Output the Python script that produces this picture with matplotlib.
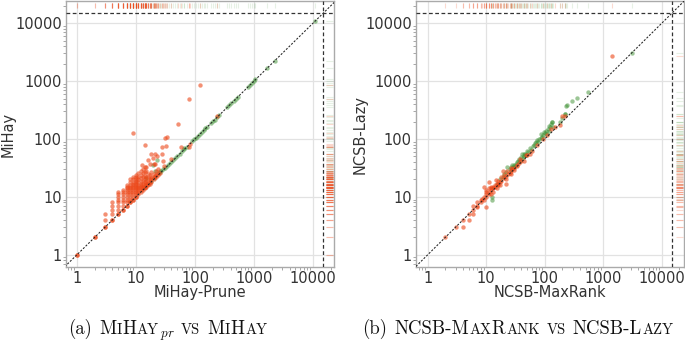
import matplotlib
matplotlib.use("Agg")
import matplotlib.pyplot as plt
import matplotlib.ticker as mt
import matplotlib.transforms as mtrans

plt.rcParams['mathtext.fontset'] = 'cm'
plt.rcParams['font.family'] = ['DejaVu Sans']

# ---------------- data ----------------
TICKS = [1, 10, 100, 1000, 10000]
TICK_LABELS = ["1", "10", "100", "1000", "10000"]
TIMEOUT = 14800

LEFT_ORANGE_X = [
    1, 1, 2, 2, 3, 3, 4, 4, 5, 5, 6, 6, 7, 7, 8, 8, 9, 9, 10, 10, 11, 12, 13, 14, 15, 16, 17, 18, 20, 22, 24, 26,
    3, 3,
    4, 4, 4, 4,
    5, 5, 5, 5, 5, 5, 5,
    6, 6, 6, 6, 6, 6, 6,
    7, 7, 7, 7, 7, 7, 7, 7, 7,
    8, 8, 8, 8, 8, 8, 8, 8, 8, 8,
    9, 9, 9, 9, 9, 9, 9, 9, 9, 9, 9,
    10, 10, 10, 10, 10, 10, 10, 10, 10, 10, 10, 10,
    11, 11, 11, 11, 11, 11, 11, 11, 11,
    12, 12, 12, 12, 12, 12, 12, 12, 12,
    13, 13, 13, 13, 13, 13, 13,
    14, 14, 14, 14, 14, 14, 14,
    15, 15, 15, 15, 15,
    16, 16, 16, 16, 16,
    17, 17, 17,
    18, 18, 18, 18,
    20, 20, 20,
    21, 21,
    22, 22,
    24, 24,
    9, 14, 12.5, 14.6, 17.5, 19.5, 20.8, 23, 28, 28.5, 28, 31, 34, 32, 52, 80, 122, 59, 80, 30, 40, 82, 233]
LEFT_ORANGE_Y = [
    1, 1, 2, 2, 3, 3, 4, 4, 5, 5, 6, 6, 7, 7, 8, 8, 9, 9, 10, 10, 11, 12, 13, 14, 15, 16, 17, 18, 20, 22, 24, 26,
    4, 5,
    5, 6, 7, 8,
    6, 7, 8, 9, 10, 11, 12,
    7, 8, 9, 10, 11, 12, 13,
    8, 9, 10, 11, 12, 13, 14, 15, 16,
    9, 10, 11, 12, 13, 14, 15, 16, 18, 20,
    10, 11, 12, 13, 14, 15, 16, 17, 18, 20, 22,
    11, 12, 13, 14, 15, 16, 17, 18, 19, 20, 22, 24,
    12, 13, 14, 15, 16, 18, 20, 22, 26,
    13, 14, 15, 16, 17, 19, 21, 24, 28,
    14, 15, 17, 19, 22, 26, 30,
    15, 16, 18, 20, 23, 27, 33,
    16, 17, 19, 22, 28,
    17, 18, 21, 25, 43,
    18, 20, 24,
    20, 22, 27, 54,
    22, 25, 37,
    23, 55,
    24, 28,
    26, 30,
    128, 80, 36, 32.6, 37, 47, 37.6, 50, 56, 42, 72, 103, 107, 76, 183, 490, 867, 72, 74, 34, 45, 83, 247]

LEFT_GREEN_X = [15, 18, 19.5, 20, 21, 23, 25.7, 65,
    25, 27, 29, 31, 33, 36, 39, 42, 46, 50, 55, 60, 66, 73, 90, 97, 104, 112, 120, 130,
    140, 150, 160, 185, 200, 215, 235, 255, 350, 380, 410, 450, 490, 530, 800, 860, 920,
    990, 1060, 1650, 2250, 10900]
LEFT_GREEN_Y = [21, 19, 36, 21, 28, 44, 27.9, 69,
    26, 28, 30, 32, 34, 37, 40, 43, 47, 51, 56, 61, 67, 74, 91, 98, 105, 113, 121, 131,
    141, 152, 162, 187, 202, 217, 237, 257, 353, 383, 413, 454, 494, 534, 806, 866, 926,
    997, 1067, 1660, 2265, 11000]

RIGHT_ORANGE_X = [2, 3, 4, 4, 5, 5, 6, 6, 6, 7, 7, 7, 8, 8, 8.6, 9, 9, 10, 10, 10,
    11, 11, 9.2, 9.9, 11, 12, 12, 13, 13, 14, 14.6, 15.6, 15, 16, 17, 18, 19.5, 21.6, 20, 22,
    24, 25, 26, 28, 30, 33, 36, 40, 47, 50, 60, 75, 95, 110, 130, 150, 182, 200, 220, 1397,
    10, 11, 12, 12, 13, 14, 15, 16, 17, 18, 20, 22, 23, 26, 27, 30, 34, 38, 44, 55]
RIGHT_ORANGE_Y = [2, 3, 3, 4, 4, 5, 5, 6, 7, 6.7, 7, 8, 8, 9, 9.2, 9, 10, 6.7, 10, 11,
    11, 12, 14.8, 13.4, 18, 13, 14, 14, 15, 15, 19.3, 15.8, 17, 17, 18, 19, 27.5, 16.5, 21, 23,
    25, 26, 28, 30, 31, 34, 38, 41, 52, 52, 62, 78, 100, 115, 150, 160, 171, 251, 250, 2735,
    12, 14, 15, 11, 12, 16, 14, 19, 16, 22, 24, 20, 28, 25, 32, 29, 36, 45, 42, 55]

RIGHT_GREEN_X = [12.5, 12.5, 15, 17, 19.5, 20, 22, 23, 25, 26, 27, 28, 29, 30, 31, 32, 34, 35, 36.5, 38,
    40, 41.5, 42, 44, 45, 46, 48, 50, 52, 55, 58, 62, 66, 68, 70, 75, 78, 80, 85, 88,
    90, 92, 97, 100, 105, 110, 114, 118, 120, 122, 126, 132, 135, 140, 180, 200, 219, 222, 228, 238,
    290, 352, 556, 3069]
RIGHT_GREEN_Y = [9, 10, 17, 20, 22, 25, 27, 32.7, 30, 29, 33, 35, 33, 36, 34, 37, 40, 41, 45, 42,
    48, 55, 46, 50, 54, 56, 52, 62, 60, 70, 65, 75, 80, 85, 88, 95, 90, 100, 122, 105,
    110, 118, 130, 125, 140, 120, 148, 170, 140, 163, 181, 195, 200, 160, 200, 230, 269, 272, 372, 382,
    447, 512, 657, 2999]

ORANGE = '#ec4718'
GREEN = '#3a8f2f'

# ---------------- figure ----------------
fig = plt.figure(figsize=(6.85, 3.4), dpi=100)
ax1 = fig.add_axes([66 / 685, 73 / 340, 268 / 685, 266 / 340])
ax2 = fig.add_axes([416 / 685, 73 / 340, 268 / 685, 266 / 340])


def draw(ax, ox, oy, gx, gy, xlim, ylim, xlabel, ylabel, ylab_x):
    ax.set_xscale('log')
    ax.set_yscale('log')
    ax.set_xlim(xlim)
    ax.set_ylim(ylim)
    ax.set_axisbelow(True)
    ax.grid(True, which='major', color='#e2e2e2', lw=0.9)
    ax.set_xticks(TICKS)
    ax.set_xticklabels(TICK_LABELS)
    ax.set_yticks(TICKS)
    ax.set_yticklabels(TICK_LABELS)
    ax.xaxis.set_minor_locator(mt.LogLocator(base=10, subs=range(2, 10), numticks=20))
    ax.yaxis.set_minor_locator(mt.LogLocator(base=10, subs=range(2, 10), numticks=20))
    ax.xaxis.set_minor_formatter(mt.NullFormatter())
    ax.yaxis.set_minor_formatter(mt.NullFormatter())
    ax.tick_params(which='major', length=0, labelsize=10.5, labelcolor='#333333', pad=3)
    ax.tick_params(which='minor', length=2, width=0.6, color='#999999')
    for sp in ax.spines.values():
        sp.set_color('#aaaaaa')
        sp.set_linewidth(1.0)
    ax.set_xlabel(xlabel, fontsize=10.5, color='#333333', va='center')
    ax.set_ylabel(ylabel, fontsize=10.5, color='#333333', va='center')
    ax.xaxis.set_label_coords(0.5, -0.097)
    ax.yaxis.set_label_coords(ylab_x, 0.5)

    ax.scatter(gx, gy, s=10, c=GREEN, alpha=0.5, lw=0, zorder=3)
    ax.scatter(ox, oy, s=10, c=ORANGE, alpha=0.6, lw=0, zorder=4)
    ax.plot([0.1, 1e5], [0.1, 1e5], ls=(0, (2, 1.5)), color='#222222', lw=0.75, zorder=5)
    ax.axvline(TIMEOUT, ls=(0, (3, 2)), color='#333333', lw=0.9, zorder=5)
    ax.axhline(TIMEOUT, ls=(0, (3, 2)), color='#333333', lw=0.9, zorder=5)

    xt = ax.get_xaxis_transform()
    yt = ax.get_yaxis_transform()
    ax.vlines(gx, 0.973, 0.994, transform=xt, colors=GREEN, alpha=0.12, lw=0.8)
    ax.vlines(ox, 0.973, 0.994, transform=xt, colors=ORANGE, alpha=0.2, lw=0.8)
    ax.hlines(gy, 0.970, 0.997, transform=yt, colors=GREEN, alpha=0.12, lw=0.8)
    ax.hlines(oy, 0.970, 0.997, transform=yt, colors=ORANGE, alpha=0.2, lw=0.8)


draw(ax1, LEFT_ORANGE_X, LEFT_ORANGE_Y, LEFT_GREEN_X, LEFT_GREEN_Y,
     (0.652, 22700), (0.614, 24200), "MiHay-Prune", "MiHay", -0.215)
draw(ax2, RIGHT_ORANGE_X, RIGHT_ORANGE_Y, RIGHT_GREEN_X, RIGHT_GREEN_Y,
     (0.63, 24000), (0.614, 24200), "NCSB-MaxRank", "NCSB-Lazy", -0.21)

# ---------------- captions (small caps emulated) ----------------
BIG = 13.5
SMALL = 10.6
SUB = 9.5
CAP_A = [("(a)", BIG, 0), (" ", BIG, 0), ("M", BIG, 0), ("I", SMALL, 0), ("H", BIG, 0),
         ("AY", SMALL, 0), ("$pr$", SUB, -3), (" ", BIG, 0), ("VS", SMALL, 0), (" ", BIG, 0),
         ("M", BIG, 0), ("I", SMALL, 0), ("H", BIG, 0), ("AY", SMALL, 0)]
CAP_B = [("(b)", BIG, 0), (" ", BIG, 0), ("NCSB-M", BIG, 0), ("AX", SMALL, 0), ("R", BIG, 0),
         ("ANK", SMALL, 0), (" ", BIG, 0), ("VS", SMALL, 0), (" ", BIG, 0), ("NCSB-L", BIG, 0),
         ("AZY", SMALL, 0)]

renderer = fig.canvas.get_renderer()


def caption(pieces, cx, base):
    ident = mtrans.IdentityTransform()
    texts = []
    x = 0.0
    for s, size, dy in pieces:
        if s == " ":
            x += size * 100 / 72 * 0.333
            continue
        fam = 'DejaVu Sans' if s.startswith('$') else 'cmr10'
        t = fig.text(x, base + dy, s, fontsize=size, family=fam, transform=ident,
                     ha='left', va='baseline', color='#111111')
        w = t.get_window_extent(renderer=renderer).width
        texts.append((t, x))
        x += w + 0.5
    shift = cx - x / 2
    for t, x0 in texts:
        t.set_x(x0 + shift)


caption(CAP_A, 168, 6.5)
caption(CAP_B, 518, 6.5)

fig.savefig("out.png", dpi=100)
